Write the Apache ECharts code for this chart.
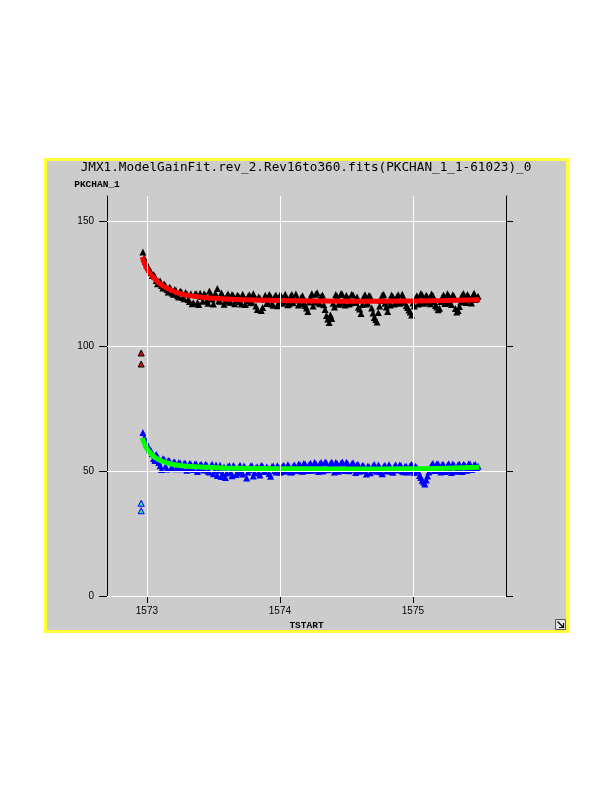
<!DOCTYPE html>
<html>
<head>
<meta charset="utf-8">
<script src="https://cdn.jsdelivr.net/npm/echarts@6/dist/echarts.min.js"></script>
<style>
html,body{margin:0;padding:0;background:#ffffff;}
#chart{width:612px;height:792px;}
</style>
</head>
<body>
<div id="chart"></div>
<script>
// ---- data ----
const chartTitle = 'JMX1.ModelGainFit.rev_2.Rev16to360.fits(PKCHAN_1_1-61023)_0';
const xName = 'TSTART';
const yName = 'PKCHAN_1';
const xTicks = [1573, 1574, 1575];
const yTicks = [0, 50, 100, 150];

const tstart = [
1572.97,1572.99,1573.01,1573.03,1573.05,1573.07,1573.09,1573.11,1573.13,1573.15,
1573.17,1573.19,1573.21,1573.23,1573.25,1573.27,1573.29,1573.31,1573.33,1573.35,
1573.37,1573.39,1573.41,1573.43,1573.45,1573.47,1573.49,1573.51,1573.53,1573.55,
1573.57,1573.59,1573.61,1573.63,1573.65,1573.67,1573.69,1573.71,1573.73,1573.75,
1573.77,1573.79,1573.81,1573.83,1573.85,1573.87,1573.89,1573.91,1573.93,1573.95,
1573.97,1573.99,1574.01,1574.03,1574.05,1574.07,1574.09,1574.11,1574.13,1574.15,
1574.17,1574.19,1574.21,1574.23,1574.25,1574.27,1574.29,1574.31,1574.33,1574.35,
1574.37,1574.39,1574.41,1574.43,1574.45,1574.47,1574.49,1574.51,1574.53,1574.55,
1574.57,1574.59,1574.61,1574.63,1574.65,1574.67,1574.69,1574.71,1574.73,1574.75,
1574.77,1574.79,1574.81,1574.83,1574.85,1574.87,1574.89,1574.91,1574.93,1574.95,
1574.97,1574.99,1575.01,1575.03,1575.05,1575.07,1575.09,1575.11,1575.13,1575.15,
1575.17,1575.19,1575.21,1575.23,1575.25,1575.27,1575.29,1575.31,1575.33,1575.35,
1575.37,1575.39,1575.41,1575.43,1575.45,1575.47,1575.49
];
const chan1 = [
137.6,133.8,131.5,129.4,128.6,126.2,125.9,124.2,124.8,122.6,
123.5,121.2,122.6,120.1,121.9,119.4,121.4,118.6,120.9,117.2,
121.0,116.6,119.8,120.9,118.2,122.0,118.8,120.6,123.0,117.9,
120.2,118.0,120.8,117.5,120.1,118.3,119.9,116.8,119.6,118.0,
120.5,117.6,119.8,114.6,119.2,115.4,120.3,117.4,119.9,116.3,
120.4,117.2,120.0,117.8,119.4,116.9,120.6,118.4,119.2,117.0,
120.1,116.2,113.8,119.6,116.0,120.7,117.4,119.8,116.5,112.2,
109.4,111.0,115.6,119.9,117.0,120.6,116.4,119.3,117.2,120.4,
117.8,115.5,113.0,119.6,116.8,120.2,115.2,111.4,109.6,116.0,
120.3,117.1,113.8,116.4,119.7,117.3,120.5,117.6,119.4,116.2,
114.4,112.4,116.0,120.1,117.4,120.4,117.9,119.6,116.9,120.2,
116.2,114.5,117.8,120.4,117.5,120.1,116.6,119.8,113.6,115.8,
120.3,117.8,120.6,118.4,120.0,118.6,119.9
];
const chan2 = [
65.4,62.0,59.8,58.2,55.0,56.6,53.4,50.6,54.6,50.8,
54.0,51.6,53.6,51.2,53.2,50.9,53.0,51.4,52.8,50.6,
52.9,51.0,52.6,50.4,52.4,49.6,52.7,50.1,48.2,52.3,
49.0,47.4,51.8,49.6,52.2,48.6,51.4,49.9,52.0,47.2,
50.6,52.1,49.4,51.7,48.4,51.9,49.8,51.2,47.9,52.0,
49.6,51.5,49.8,52.2,50.1,51.8,49.7,52.4,50.3,52.6,
49.9,52.8,50.2,53.1,50.6,53.0,49.8,53.4,50.4,53.2,
50.9,53.5,49.6,53.1,50.7,53.6,50.2,52.9,50.8,53.3,
49.4,52.4,50.5,52.0,48.8,51.8,50.3,52.6,49.9,51.7,
48.9,52.3,50.4,51.6,49.5,52.5,50.7,52.2,49.7,51.9,
50.2,52.6,49.4,51.3,48.2,46.3,44.8,48.0,50.9,53.0,
50.4,52.8,49.6,52.5,50.1,52.9,49.4,52.2,50.6,52.7,
49.8,52.4,50.5,52.8,50.9,52.6,51.9
];

// second interleaved set of readings
const tstartB = [
1572.98,1573.00,1573.02,1573.04,1573.06,1573.08,1573.10,1573.12,1573.14,1573.16,
1573.18,1573.20,1573.22,1573.24,1573.26,1573.28,1573.30,1573.32,1573.34,1573.36,
1573.38,1573.40,1573.42,1573.44,1573.46,1573.48,1573.50,1573.52,1573.54,1573.56,
1573.58,1573.60,1573.62,1573.64,1573.66,1573.68,1573.70,1573.72,1573.74,1573.76,
1573.78,1573.80,1573.82,1573.84,1573.86,1573.88,1573.90,1573.92,1573.94,1573.96,
1573.98,1574.00,1574.02,1574.04,1574.06,1574.08,1574.10,1574.12,1574.14,1574.16,
1574.18,1574.20,1574.22,1574.24,1574.26,1574.28,1574.30,1574.32,1574.34,1574.36,
1574.38,1574.40,1574.42,1574.44,1574.46,1574.48,1574.50,1574.52,1574.54,1574.56,
1574.58,1574.60,1574.62,1574.64,1574.66,1574.68,1574.70,1574.72,1574.74,1574.76,
1574.78,1574.80,1574.82,1574.84,1574.86,1574.88,1574.90,1574.92,1574.94,1574.96,
1574.98,1575.00,1575.02,1575.04,1575.06,1575.08,1575.10,1575.12,1575.14,1575.16,
1575.18,1575.20,1575.22,1575.24,1575.26,1575.28,1575.30,1575.32,1575.34,1575.36,
1575.38,1575.40,1575.42,1575.44,1575.46,1575.48
];
const chan1B = [
135.2,132.4,130.6,128.2,127.8,124.9,126.0,123.2,124.1,121.6,
123.0,120.7,122.1,119.6,121.6,118.9,120.9,117.8,116.9,120.6,
117.4,121.1,117.9,120.3,117.1,120.8,116.8,120.5,118.1,121.2,
116.7,119.9,117.6,120.6,116.9,120.3,117.8,120.7,116.6,119.8,
117.3,120.9,116.0,119.6,114.2,118.8,117.0,120.6,116.8,119.7,
116.1,120.3,117.1,120.7,116.5,119.9,117.3,120.8,116.4,119.5,
117.0,115.2,117.6,120.9,117.8,121.3,116.9,120.4,114.6,110.8,
112.4,117.1,120.6,116.7,121.0,117.6,120.2,116.8,120.7,117.4,
119.6,114.8,116.6,120.5,117.2,119.8,113.2,110.6,113.4,118.2,
120.6,115.6,117.9,120.4,116.8,119.8,117.1,120.7,117.5,115.4,
113.6,117.2,119.0,116.8,121.0,117.1,120.3,117.6,120.8,117.7,
115.6,115.1,119.4,117.0,120.9,117.2,120.5,115.0,114.2,117.6,
121.0,117.4,119.8,117.2,121.1,119.0
];
const chan2B = [
63.4,60.6,58.5,56.9,54.2,55.7,52.1,54.9,51.9,54.2,
51.0,53.5,50.9,53.4,51.7,53.1,50.3,52.9,51.2,52.7,
49.8,52.5,50.7,52.6,50.0,51.9,48.9,52.4,50.3,47.8,
51.6,49.2,52.1,48.1,51.5,49.3,52.3,48.8,51.2,49.6,
52.0,48.0,51.3,49.2,52.2,49.9,51.6,49.0,51.8,50.2,
52.1,49.5,51.9,50.0,52.5,49.6,52.0,50.4,52.7,50.1,
53.0,50.6,52.6,50.3,53.4,50.8,52.9,50.0,53.6,50.5,
53.0,50.8,53.4,49.9,53.2,50.6,53.5,50.1,52.8,50.7,
52.6,49.9,52.2,50.2,51.9,49.3,52.1,50.6,52.4,49.6,
51.8,50.0,52.5,49.8,51.7,50.4,52.4,50.0,51.8,49.6,
52.2,50.3,51.9,50.0,47.4,45.6,46.4,49.6,52.4,50.2,
52.9,50.5,52.6,49.8,52.3,50.4,52.8,49.9,52.5,50.2,
52.6,50.3,52.9,50.6,52.4,51.2
];

const fitX = [1572.965,1572.98,1573.0,1573.02,1573.05,1573.08,1573.12,1573.16,1573.2,1573.25,1573.3,1573.4,1573.5,1573.6,1573.8,1574.0,1574.25,1574.5,1574.75,1575.0,1575.25,1575.5];
const fit1 = [135.6,133.3,131.0,129.3,127.3,125.7,124.1,122.9,121.9,120.9,120.3,119.6,119.1,118.8,118.4,118.2,118.0,117.9,117.9,118.0,118.2,118.5];
const fit2 = [63.2,61.2,59.0,57.6,55.9,54.8,53.8,53.1,52.6,52.2,51.9,51.6,51.4,51.2,51.0,50.9,50.9,50.8,50.8,50.9,51.1,51.5];

const outX = [1572.957, 1572.957];
const out1 = [97.2, 92.8];
const out2 = [37.1, 34.1];

// ---- build ----
function pairs(xs, ys){ return xs.map((x,i)=>[x, ys[i]]); }

const chart = echarts.init(document.getElementById('chart'), null, {renderer:'canvas'});
const labelFont = {fontFamily:'Liberation Sans', fontSize:10, color:'#000'};
const nameFont = {fontFamily:'Liberation Mono', fontSize:9.5, fontWeight:'bold', color:'#000'};

const option = {
  backgroundColor:'#ffffff',
  animation:false,
  title:{
    text: chartTitle, left:'center', top:161, padding:0,
    textStyle:{fontFamily:'DejaVu Sans Mono', fontSize:12.7, fontWeight:'normal', color:'#000'}
  },
  graphic:[
    {type:'rect', z:-10, shape:{x:45.5, y:159.5, width:522, height:472},
     style:{fill:'#cccccc', stroke:'#ffff3c', lineWidth:3}},
    {type:'rect', z:10, shape:{x:555.5, y:619.5, width:10, height:10},
     style:{fill:'#e6e6e6', stroke:'#555', lineWidth:1}},
    {type:'polyline', z:11, shape:{points:[[557.5,621.5],[563,627]]}, style:{stroke:'#000', lineWidth:1.2, fill:null}},
    {type:'polyline', z:11, shape:{points:[[563.5,623],[563.5,627.5],[559,627.5]]}, style:{stroke:'#000', lineWidth:1.2, fill:null}}
  ],
  grid:{left:107, top:196, width:399, height:400, containLabel:false},
  xAxis:[
    {type:'value', position:'bottom', min:1572.7, max:1575.7,
     name:xName, nameLocation:'middle', nameGap:22, nameTextStyle:nameFont,
     axisLine:{show:false},
     axisTick:{show:true, length:7, customValues:xTicks, lineStyle:{color:'#000', width:1}},
     axisLabel:{show:true, customValues:xTicks, margin:10, ...labelFont, formatter:v=>String(v)},
     splitLine:{show:false}},
    {type:'value', position:'top', min:1572.7, max:1575.7,
     axisLine:{show:true, lineStyle:{color:'#000', width:1}},
     axisTick:{show:true, length:7, customValues:xTicks, lineStyle:{color:'#000', width:1}},
     axisLabel:{show:false}, splitLine:{show:false}}
  ],
  yAxis:[
    {type:'value', position:'left', min:0, max:160,
     name:yName, nameLocation:'end', nameGap:6,
     nameTextStyle:{...nameFont, align:'center', padding:[0,20,0,0]},
     axisLine:{show:true, lineStyle:{color:'#000', width:1}},
     axisTick:{show:true, length:8, customValues:yTicks, lineStyle:{color:'#000', width:1}},
     axisLabel:{show:true, customValues:yTicks, margin:13, ...labelFont},
     splitLine:{show:false}},
    {type:'value', position:'right', min:0, max:160,
     axisLine:{show:true, lineStyle:{color:'#000', width:1}},
     axisTick:{show:true, length:7, customValues:yTicks, lineStyle:{color:'#000', width:1}},
     axisLabel:{show:false}, splitLine:{show:false}}
  ],
  series:[
    {type:'line', name:'grid', xAxisIndex:0, yAxisIndex:0, z:1, data:[], silent:true,
     markLine:{silent:true, symbol:['none','none'], animation:false, label:{show:false},
       lineStyle:{color:'#ffffff', width:1, type:'solid'},
       data: xTicks.map(v=>({xAxis:v})).concat(yTicks.map(v=>({yAxis:v})))}},
    {type:'scatter', name:'PKCHAN_1 data', z:3, symbol:'triangle', symbolSize:7,
     itemStyle:{color:'#000000', opacity:1}, data:pairs(tstart, chan1).concat(pairs(tstartB, chan1B))},
    {type:'line', name:'PKCHAN_1 fit', z:4, smooth:true, showSymbol:false, symbol:'none',
     lineStyle:{color:'#ff0000', width:5, opacity:1}, data:pairs(fitX, fit1)},
    {type:'scatter', name:'chan2 data', z:3, symbol:'triangle', symbolSize:7,
     itemStyle:{color:'#0000ff', opacity:1}, data:pairs(tstart, chan2).concat(pairs(tstartB, chan2B))},
    {type:'line', name:'chan2 fit', z:4, smooth:true, showSymbol:false, symbol:'none',
     lineStyle:{color:'#00ff00', width:5, opacity:1}, data:pairs(fitX, fit2)},
    {type:'scatter', name:'outliers1', z:5, symbol:'triangle', symbolSize:6,
     itemStyle:{color:'#cc1010', borderColor:'#000', borderWidth:1, opacity:1}, data:pairs(outX, out1)},
    {type:'scatter', name:'outliers2', z:5, symbol:'triangle', symbolSize:6,
     itemStyle:{color:'#30d8a0', borderColor:'#0000ff', borderWidth:1, opacity:1}, data:pairs(outX, out2)}
  ]
};
chart.setOption(option);
</script>
</body>
</html>
